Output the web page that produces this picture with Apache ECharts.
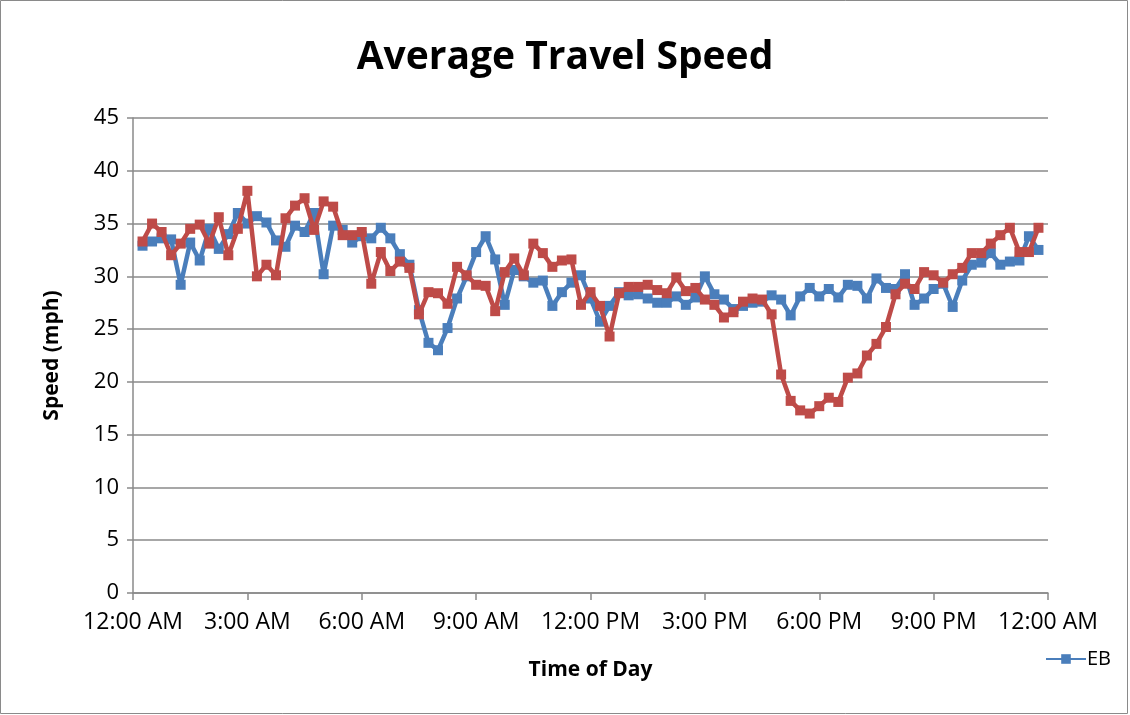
<!DOCTYPE html>
<html>
<head>
<meta charset="utf-8">
<title>Average Travel Speed</title>
<script src="https://cdn.jsdelivr.net/npm/echarts@6/dist/echarts.min.js"></script>
<style>
  html, body { margin: 0; padding: 0; background: #ffffff; }
  #chart { width: 1130px; height: 715px; }
</style>
</head>
<body>
<div id="chart"></div>
<script>
// 15-minute reporting slots, in minutes after midnight (00:15 … 23:45)
const slotMinutes = Array.from({ length: 95 }, (_, i) => (i + 1) * 15);

// Tick labels every three hours
const timeTickLabels = ['12:00 AM', '3:00 AM', '6:00 AM', '9:00 AM', '12:00 PM',
  '3:00 PM', '6:00 PM', '9:00 PM', '12:00 AM'];

// Eastbound average speed (mph)
const ebSpeed = [
  32.9, 33.3, 33.6, 33.5, 29.2, 33.2, 31.5, 34.5, 32.6, 34.0, 36.0, 35.0,
  35.7, 35.1, 33.4, 32.8, 34.8, 34.2, 36.0, 30.2, 34.8, 34.4, 33.2, 33.8,
  33.6, 34.6, 33.6, 32.1, 31.1, 26.8, 23.7, 23.0, 25.1, 27.9, 30.0, 32.3,
  33.8, 31.6, 27.3, 30.6, 30.0, 29.4, 29.6, 27.2, 28.5, 29.4, 30.1, 27.9,
  25.7, 27.2, 28.5, 28.2, 28.3, 27.9, 27.5, 27.5, 28.1, 27.3, 28.0, 30.0,
  28.3, 27.8, 26.9, 27.2, 27.5, 27.6, 28.2, 27.8, 26.3, 28.1, 28.9, 28.1,
  28.8, 28.0, 29.2, 29.1, 27.9, 29.8, 28.9, 28.8, 30.2, 27.3, 27.9, 28.8,
  29.3, 27.1, 29.6, 31.1, 31.3, 32.2, 31.1, 31.4, 31.5, 33.8, 32.5
];

// Westbound average speed (mph)
const wbSpeed = [
  33.3, 35.0, 34.2, 32.0, 33.1, 34.5, 34.9, 33.1, 35.6, 32.0, 34.5, 38.1,
  30.0, 31.1, 30.1, 35.5, 36.7, 37.4, 34.4, 37.1, 36.6, 33.9, 33.9, 34.2,
  29.3, 32.3, 30.5, 31.4, 30.8, 26.4, 28.5, 28.4, 27.4, 30.9, 30.1, 29.2,
  29.1, 26.7, 30.4, 31.7, 30.1, 33.1, 32.2, 30.9, 31.5, 31.6, 27.3, 28.5,
  27.2, 24.3, 28.4, 29.0, 29.0, 29.2, 28.7, 28.4, 29.9, 28.6, 28.9, 27.8,
  27.3, 26.1, 26.6, 27.6, 27.9, 27.8, 26.4, 20.7, 18.2, 17.3, 17.0, 17.7,
  18.5, 18.1, 20.4, 20.8, 22.5, 23.6, 25.2, 28.3, 29.3, 28.8, 30.4, 30.1,
  29.4, 30.2, 30.8, 32.2, 32.2, 33.1, 33.9, 34.6, 32.3, 32.3, 34.6
];

const pair = (vals) => vals.map((v, i) => [slotMinutes[i], v]);

const FONT = 'Open Sans';
const GRID_GRAY = '#8a8a8a';

const chart = echarts.init(document.getElementById('chart'), null, { renderer: 'canvas' });

chart.setOption({
  backgroundColor: '#ffffff',
  animation: false,
  textStyle: { fontFamily: FONT, color: '#000' },
  title: {
    text: 'Average Travel Speed',
    left: 'center',
    top: 33,
    textStyle: { fontFamily: FONT, fontSize: 39, fontWeight: 'bold', color: '#000' }
  },
  legend: {
    data: ['EB'],
    left: 1040,
    top: 644,
    itemWidth: 40,
    itemHeight: 12,
    itemGap: 6,
    textStyle: { fontFamily: FONT, fontSize: 20, color: '#000', padding: [0, 0, 0, -4] }
  },
  grid: { left: 133, right: 82, top: 118, bottom: 122, containLabel: false },
  xAxis: {
    type: 'value',
    min: 0,
    max: 1440,
    interval: 180,
    name: 'Time of Day',
    nameLocation: 'middle',
    nameGap: 67,
    nameTextStyle: { fontFamily: FONT, fontSize: 21, fontWeight: 'bold', color: '#000' },
    axisLine: { show: true, lineStyle: { color: GRID_GRAY, width: 1.5 } },
    axisTick: { show: true, length: 7, inside: false, lineStyle: { color: GRID_GRAY, width: 1.5 } },
    axisLabel: {
      fontFamily: FONT, fontSize: 23, color: '#000', margin: 18,
      formatter: (v) => timeTickLabels[Math.round(v / 180)]
    },
    splitLine: { show: false }
  },
  yAxis: {
    type: 'value',
    min: 0,
    max: 45,
    interval: 5,
    name: 'Speed (mph)',
    nameLocation: 'middle',
    nameGap: 70,
    nameTextStyle: { fontFamily: FONT, fontSize: 21, fontWeight: 'bold', color: '#000' },
    axisLine: { show: true, lineStyle: { color: GRID_GRAY, width: 1.5 } },
    axisTick: { show: true, length: 6, lineStyle: { color: GRID_GRAY, width: 1.5 } },
    axisLabel: { fontFamily: FONT, fontSize: 22, color: '#000', margin: 14 },
    splitLine: { show: true, lineStyle: { color: GRID_GRAY, width: 1.5 } }
  },
  series: [
    {
      name: 'EB',
      type: 'line',
      data: pair(ebSpeed),
      symbol: 'rect',
      symbolSize: 10,
      color: '#4a7ebb',
      lineStyle: { width: 4.5, color: '#4a7ebb' },
      itemStyle: { color: '#4a7ebb' },
      z: 2
    },
    {
      name: 'WB',
      type: 'line',
      data: pair(wbSpeed),
      symbol: 'rect',
      symbolSize: 10,
      color: '#be4b48',
      lineStyle: { width: 4.5, color: '#be4b48' },
      itemStyle: { color: '#be4b48' },
      z: 3
    }
  ],
  graphic: [
    {
      type: 'rect',
      shape: { x: 0.5, y: 0.5, width: 1127, height: 713 },
      style: { fill: 'none', stroke: '#8a8a8a', lineWidth: 1 },
      silent: true
    }
  ]
});
</script>
</body>
</html>
